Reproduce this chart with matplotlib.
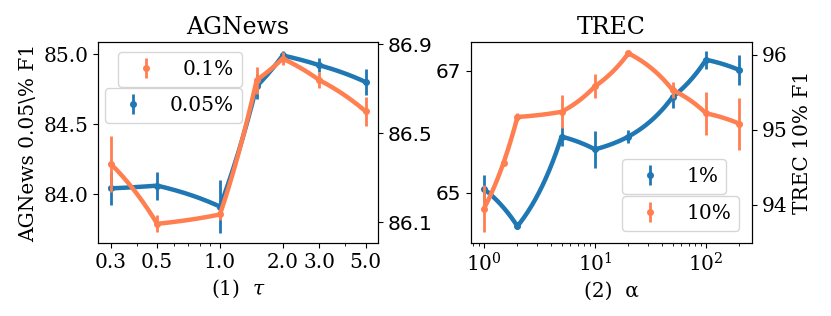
import numpy as np
import matplotlib
matplotlib.use('Agg')
import matplotlib.pyplot as plt
from matplotlib.path import Path
from matplotlib.ticker import FixedLocator, FixedFormatter

plt.rcParams['font.family'] = 'DejaVu Serif'
plt.rcParams['mathtext.fontset'] = 'dejavuserif'
plt.rcParams['font.size'] = 14.5

# AGNews, varying tau
tau = [0.3, 0.5, 1.0, 1.5, 2.0, 3.0, 5.0]
tau_ticks = [0.3, 0.5, 1.0, 2.0, 3.0, 5.0]
tau_labels = ['0.3', '0.5', '1.0', '2.0', '3.0', '5.0']
ag_005 = [84.04, 84.06, 83.91, 84.77, 84.99, 84.92, 84.80]
ag_005_err = [0.12, 0.10, 0.19, 0.09, 0.03, 0.05, 0.09]
ag_01 = [86.362, 86.094, 86.136, 86.738, 86.835, 86.738, 86.598]
ag_01_err = [0.125, 0.038, 0.025, 0.06, 0.03, 0.035, 0.065]

# TREC, varying alpha
alpha_1 = [1, 2, 5, 10, 20, 50, 100, 200]
trec_1 = [65.06, 64.45, 65.92, 65.71, 65.92, 66.57, 67.18, 67.01]
trec_1_err = [0.23, 0.05, 0.15, 0.30, 0.10, 0.18, 0.15, 0.25]
alpha_10 = [1, 1.5, 2, 5, 10, 20, 50, 100, 200]
trec_10 = [93.95, 94.56, 95.17, 95.24, 95.58, 96.02, 95.53, 95.22, 95.08]
trec_10_err = [0.31, 0.0, 0.05, 0.22, 0.16, 0.02, 0.11, 0.29, 0.35]

blue = '#1f77b4'
orange = '#ff7f50'


def draw(ax, x, y, err, color, label):
    # segments are straight in data space, so they bend on the log axis
    path = Path(np.column_stack([x, y])).interpolated(40)
    ax.plot(path.vertices[:, 0], path.vertices[:, 1], color=color, lw=3.2)
    ax.errorbar(x, y, yerr=err, fmt='o', color=color, ms=4,
                elinewidth=2, label=label)


fig = plt.figure(figsize=(8.31, 3.16), dpi=100)

# (1) AGNews
ax1 = fig.add_axes([0.1179, 0.2310, 0.337, 0.636])
ax2 = ax1.twinx()
ax1.set_xscale('log')
draw(ax1, tau, ag_005, ag_005_err, blue, '0.05%')
draw(ax2, tau, ag_01, ag_01_err, orange, '0.1%')
ax1.set_xlim(0.26, 5.73)
ax1.xaxis.set_major_locator(FixedLocator(tau_ticks))
ax1.xaxis.set_major_formatter(FixedFormatter(tau_labels))
ax1.set_ylim(83.65, 85.086)
ax1.set_yticks([84.0, 84.5, 85.0])
ax2.set_ylim(86.008, 86.909)
ax2.set_yticks([86.1, 86.5, 86.9])
ax2.tick_params(axis='y', labelfontfamily='DejaVu Sans')
ax1.set_title('AGNews', fontsize=17)
ax1.set_xlabel(r'(1)  $\tau$')
ax1.set_ylabel(r'AGNews 0.05\% F1')
ax1.legend(loc='upper right', bbox_to_anchor=(0.514, 0.771), borderaxespad=0)
ax2.legend(loc='upper right', bbox_to_anchor=(0.514, 0.950), borderaxespad=0)

# (2) TREC
ax3 = fig.add_axes([0.5668, 0.2310, 0.338, 0.636])
ax4 = ax3.twinx()
ax3.set_xscale('log')
draw(ax3, alpha_1, trec_1, trec_1_err, blue, '1%')
draw(ax4, alpha_10, trec_10, trec_10_err, orange, '10%')
ax3.set_xlim(0.764, 259)
ax3.set_ylim(64.175, 67.47)
ax3.set_yticks([65, 67])
ax3.tick_params(axis='y', labelfontfamily='DejaVu Sans')
ax4.set_ylim(93.49, 96.17)
ax4.set_yticks([94, 95, 96])
ax3.set_title('TREC', fontsize=17)
ax3.set_xlabel('(2)  α')
ax4.set_ylabel('TREC 10% F1')
ax3.legend(loc='upper left', bbox_to_anchor=(0.537, 0.418), borderaxespad=0)
ax4.legend(loc='upper left', bbox_to_anchor=(0.537, 0.235), borderaxespad=0)

fig.savefig('out.png', dpi=100)
